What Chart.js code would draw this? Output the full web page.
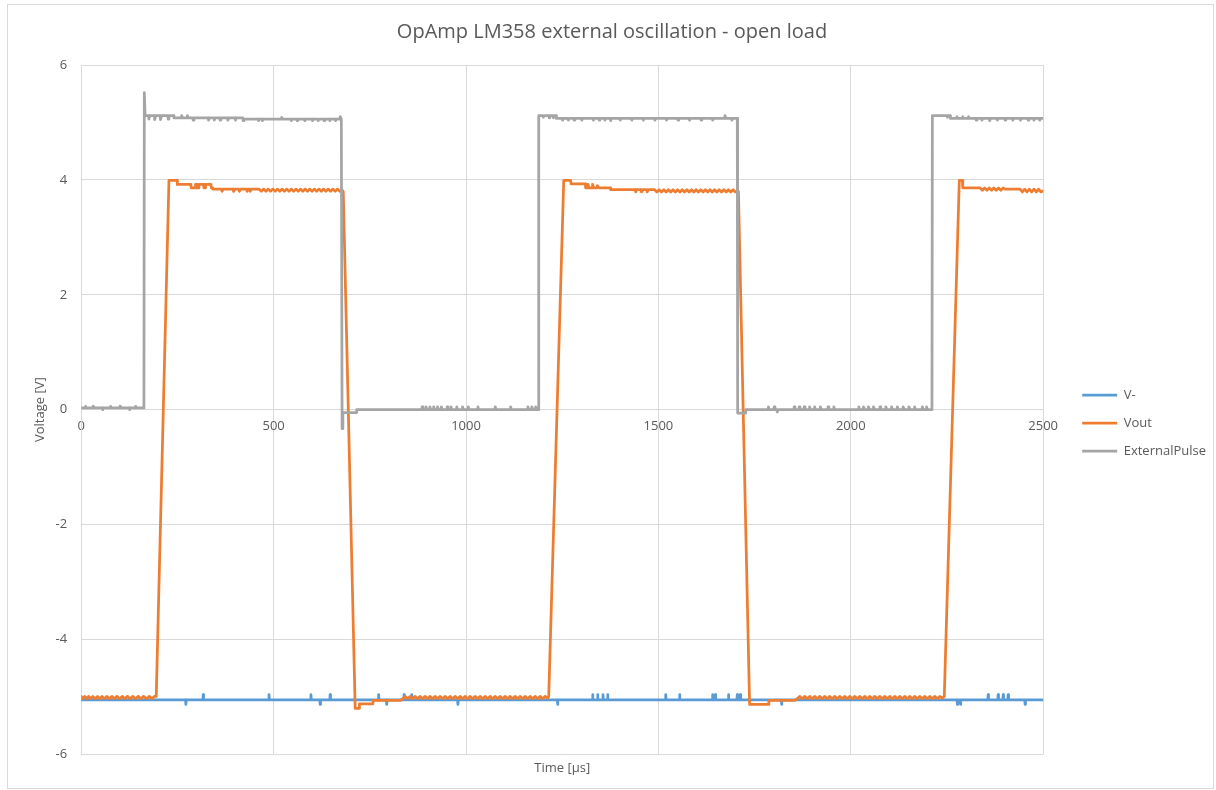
<!DOCTYPE html>
<html>
<head>
<meta charset="utf-8">
<title>OpAmp LM358 external oscillation - open load</title>
<script src="https://cdn.jsdelivr.net/npm/chart.js@4.4.1/dist/chart.umd.min.js"></script>
<style>
  html, body { margin: 0; padding: 0; background: #ffffff; }
  #wrap { width: 1216px; height: 790px; }
</style>
</head>
<body>
<div id="wrap"><canvas id="scope" width="1216" height="790"></canvas></div>
<script>
// Oscilloscope capture: time [µs], voltage [V]
const timeTicks = [0, 500, 1000, 1500, 2000, 2500];
const voltTicks = [-6, -4, -2, 0, 2, 4, 6];
const seriesNames = ['V-', 'Vout', 'ExternalPulse'];

// V- : inverting input, sits near -5.05 V with occasional single-sample blips
const vMinusSamples = [
  [0,-5.05],[271,-5.05],[272,-5.13],[273,-5.05],[316,-5.05],[317,-4.96],[318,-5.05],
  [487,-5.05],[488,-4.96],[489,-5.05],[596,-5.05],[597,-4.96],[598,-5.05],
  [620,-5.05],[621,-5.13],[622,-5.05],[646,-5.05],[647,-4.96],[648,-5.05],
  [772,-5.05],[773,-4.96],[774,-5.05],[793,-5.05],[794,-5.13],[795,-5.05],
  [838,-5.05],[839,-4.96],[840,-5.05],[858,-5.05],[859,-4.96],[860,-5.05],
  [978,-5.05],[979,-5.13],[980,-5.05],[1237,-5.05],[1238,-5.13],[1239,-5.05],
  [1328,-5.05],[1329,-4.96],[1330,-5.05],[1341,-5.05],[1342,-4.96],[1343,-5.05],
  [1355,-5.05],[1356,-4.96],[1357,-5.05],[1367,-5.05],[1368,-4.96],[1369,-5.05],
  [1518,-5.05],[1519,-4.96],[1520,-5.05],[1554,-5.05],[1555,-4.96],[1556,-5.05],
  [1640,-5.05],[1641,-4.96],[1642,-5.05],[1647,-5.05],[1648,-4.96],[1649,-5.05],
  [1681,-5.05],[1682,-4.96],[1683,-5.05],[1704,-5.05],[1705,-4.96],[1706,-5.05],
  [1712,-5.05],[1713,-4.96],[1714,-5.05],[1819,-5.05],[1820,-5.13],[1821,-5.05],
  [2276,-5.05],[2277,-5.13],[2278,-5.05],[2284,-5.05],[2285,-5.13],[2286,-5.05],
  [2356,-5.05],[2357,-4.96],[2358,-5.05],[2382,-5.05],[2383,-4.96],[2384,-5.05],
  [2395,-5.05],[2396,-4.96],[2397,-5.05],[2408,-5.05],[2409,-4.96],[2410,-5.05],
  [2452,-5.05],[2453,-5.13],[2454,-5.05],[2500,-5.05]
];

// Vout : amplifier output swinging between about -5.0 V and +3.8..4.0 V
const voutSamples = [
  [0,-4.99],[4,-5.03],[9,-4.99],[14,-5.03],[19,-4.99],[24,-5.03],[30,-4.99],[36,-5.03],
  [42,-4.99],[48,-5.03],[54,-4.99],[60,-5.03],[67,-4.99],[73,-5.03],[80,-4.99],[86,-5.03],
  [93,-4.99],[100,-5.03],[107,-4.99],[113,-5.03],[120,-4.99],[127,-5.03],[134,-4.99],
  [141,-5.03],[148,-4.99],[155,-5.03],[162,-4.99],[170,-5.03],[177,-4.99],[184,-5.03],
  [190,-4.99],[195,-4.99],
  [228,3.99],[249,3.99],[250,3.92],[285,3.92],[286,3.86],[296,3.86],[297,3.92],[301,3.92],
  [302,3.86],[305,3.86],[306,3.92],[318,3.92],[319,3.86],[322,3.86],[323,3.92],[337,3.92],
  [338,3.86],[341,3.86],[342,3.84],[365,3.84],[366,3.8],[369,3.84],[395,3.84],[396,3.8],
  [400,3.84],[410,3.84],[411,3.8],[414,3.84],[430,3.84],[431,3.8],[434,3.84],[438,3.84],
  [439,3.8],[442,3.84],[462,3.84],[468,3.8],[474,3.84],[480,3.8],[486,3.84],[492,3.8],
  [498,3.84],[504,3.8],[510,3.84],[516,3.8],[522,3.84],[528,3.8],[534,3.84],[540,3.8],
  [546,3.84],[552,3.8],[558,3.84],[564,3.8],[570,3.84],[576,3.8],[582,3.84],[588,3.8],
  [594,3.84],[600,3.8],[606,3.84],[612,3.8],[618,3.84],[624,3.8],[630,3.84],[636,3.8],
  [642,3.84],[648,3.8],[654,3.84],[660,3.8],[666,3.84],[672,3.8],[678,3.82],[681,3.8],
  [712,-5.2],[722,-5.2],[723,-5.12],[758,-5.12],[759,-5.06],[830,-5.06],
  [836,-5.03],[842,-4.99],[848,-5.03],[855,-4.99],[861,-5.03],[868,-4.99],[874,-5.03],
  [881,-4.99],[887,-5.03],[894,-4.99],[900,-5.03],[907,-4.99],[913,-5.03],[920,-4.99],
  [926,-5.03],[933,-4.99],[939,-5.03],[946,-4.99],[952,-5.03],[959,-4.99],[965,-5.03],
  [972,-4.99],[978,-5.03],[985,-4.99],[991,-5.03],[998,-4.99],[1004,-5.03],[1011,-4.99],
  [1017,-5.03],[1024,-4.99],[1030,-5.03],[1037,-4.99],[1043,-5.03],[1050,-4.99],[1056,-5.03],
  [1063,-4.99],[1069,-5.03],[1076,-4.99],[1082,-5.03],[1089,-4.99],[1095,-5.03],[1102,-4.99],
  [1108,-5.03],[1115,-4.99],[1121,-5.03],[1128,-4.99],[1134,-5.03],[1141,-4.99],[1147,-5.03],
  [1154,-4.99],[1160,-5.03],[1167,-4.99],[1173,-5.03],[1180,-4.99],[1186,-5.03],[1193,-4.99],
  [1199,-5.03],[1206,-4.99],[1212,-5.02],[1215,-4.99],
  [1254,3.99],[1272,3.99],[1273,3.93],[1310,3.93],[1311,3.86],[1316,3.86],[1317,3.92],
  [1320,3.86],[1328,3.86],[1329,3.92],[1332,3.86],[1340,3.86],[1341,3.9],[1346,3.86],
  [1375,3.86],[1376,3.83],[1440,3.83],[1441,3.79],[1444,3.83],[1455,3.83],[1456,3.79],
  [1460,3.83],[1470,3.83],[1471,3.79],[1474,3.83],[1490,3.83],[1496,3.79],[1502,3.83],
  [1508,3.79],[1514,3.83],[1520,3.79],[1526,3.83],[1532,3.79],[1538,3.83],[1544,3.79],
  [1550,3.83],[1556,3.79],[1562,3.83],[1568,3.79],[1574,3.83],[1580,3.79],[1586,3.83],
  [1592,3.79],[1598,3.83],[1604,3.79],[1610,3.83],[1616,3.79],[1622,3.83],[1628,3.79],
  [1634,3.83],[1640,3.79],[1646,3.83],[1652,3.79],[1658,3.83],[1664,3.79],[1670,3.83],
  [1676,3.79],[1682,3.83],[1688,3.79],[1694,3.83],[1700,3.79],[1708,3.8],
  [1737,-5.13],[1786,-5.13],[1787,-5.06],[1855,-5.06],[1861,-5.03],[1867,-4.99],
  [1874,-5.03],[1880,-4.99],[1887,-5.03],[1893,-4.99],[1900,-5.03],[1906,-4.99],[1913,-5.03],
  [1919,-4.99],[1926,-5.03],[1932,-4.99],[1939,-5.03],[1945,-4.99],[1952,-5.03],[1958,-4.99],
  [1965,-5.03],[1971,-4.99],[1978,-5.03],[1984,-4.99],[1991,-5.03],[1997,-4.99],[2004,-5.03],
  [2010,-4.99],[2017,-5.03],[2023,-4.99],[2030,-5.03],[2036,-4.99],[2043,-5.03],[2049,-4.99],
  [2056,-5.03],[2062,-4.99],[2069,-5.03],[2075,-4.99],[2082,-5.03],[2088,-4.99],[2095,-5.03],
  [2101,-4.99],[2108,-5.03],[2114,-4.99],[2121,-5.03],[2127,-4.99],[2134,-5.03],[2140,-4.99],
  [2147,-5.03],[2153,-4.99],[2160,-5.03],[2166,-4.99],[2173,-5.03],[2179,-4.99],[2186,-5.03],
  [2192,-4.99],[2199,-5.03],[2205,-4.99],[2212,-5.03],[2218,-4.99],[2225,-5.03],[2231,-4.99],
  [2238,-5.02],[2243,-4.99],
  [2282,3.99],[2290,3.99],[2291,3.86],[2336,3.86],[2342,3.82],[2348,3.86],[2354,3.82],
  [2360,3.86],[2366,3.82],[2372,3.86],[2378,3.82],[2384,3.86],[2390,3.82],[2396,3.86],
  [2401,3.84],[2440,3.84],[2446,3.79],[2452,3.84],[2458,3.79],[2464,3.84],[2470,3.79],
  [2476,3.84],[2482,3.79],[2488,3.84],[2494,3.79],[2500,3.81]
];

// ExternalPulse : 0 V / 5.1 V drive pulse, roughly 1 ms period
const pulseSamples = [
  [0,0.03],[10,0.03],[11,0.06],[12,0.03],[30,0.03],[31,0.06],[32,0.03],[55,0.03],[56,0.0],
  [57,0.03],[75,0.03],[76,0.06],[77,0.03],[100,0.03],[101,0.06],[102,0.03],[125,0.03],
  [126,0.0],[127,0.03],[140,0.03],[141,0.06],[142,0.03],[163,0.03],
  [164,5.52],[166,5.12],[175,5.12],[176,5.06],[178,5.12],[190,5.12],[191,5.05],[194,5.12],
  [205,5.12],[206,5.05],[209,5.12],[225,5.12],[226,5.06],[228,5.12],[240,5.12],[241,5.08],
  [260,5.08],[261,5.12],[263,5.08],[275,5.08],[276,5.12],[278,5.08],[290,5.08],[291,5.04],
  [293,5.08],[330,5.08],[331,5.04],[333,5.08],[345,5.08],[346,5.04],[348,5.08],[360,5.08],
  [361,5.04],[363,5.08],[380,5.08],[381,5.04],[384,5.08],[400,5.08],[401,5.04],[403,5.08],
  [420,5.08],[421,5.03],[423,5.06],[460,5.06],[461,5.03],[463,5.06],[470,5.06],[471,5.03],
  [473,5.06],[520,5.06],[521,5.09],[523,5.06],[545,5.06],[546,5.03],[548,5.06],[560,5.06],
  [561,5.03],[563,5.06],[580,5.06],[581,5.03],[584,5.06],[600,5.06],[601,5.03],[603,5.06],
  [615,5.06],[616,5.03],[618,5.06],[630,5.06],[631,5.03],[633,5.06],[645,5.06],[646,5.03],
  [648,5.06],[660,5.06],[661,5.03],[663,5.06],[672,5.06],[673,5.1],[676,5.06],[677,5.06],
  [678,-0.33],[680,-0.05],[715,-0.05],[716,0.0],[885,0.0],[886,0.05],[888,0.0],[895,0.0],
  [896,0.05],[898,0.0],[905,0.0],[906,0.05],[909,0.0],[915,0.0],[916,0.05],[919,0.0],
  [925,0.0],[926,0.05],[929,0.0],[935,0.0],[936,0.05],[939,0.0],[950,0.0],[951,0.05],
  [953,0.0],[960,0.0],[961,0.05],[963,0.0],[975,0.0],[976,0.05],[978,0.0],[990,0.0],
  [991,0.05],[993,0.0],[1005,0.0],[1006,0.05],[1008,0.0],[1030,0.0],[1031,0.05],[1033,0.0],
  [1075,0.0],[1076,0.05],[1078,0.0],[1115,0.0],[1116,0.05],[1118,0.0],[1160,0.0],[1161,0.05],
  [1163,0.0],[1170,0.0],[1171,0.05],[1174,0.0],[1180,0.0],[1181,0.05],[1184,0.0],[1188,0.0],
  [1189,5.12],[1200,5.12],[1201,5.09],[1203,5.12],[1215,5.12],[1216,5.08],[1218,5.12],
  [1226,5.12],[1227,5.08],[1229,5.12],[1234,5.12],[1235,5.07],[1250,5.07],[1251,5.04],
  [1254,5.07],[1265,5.07],[1266,5.04],[1268,5.07],[1280,5.07],[1281,5.04],[1283,5.07],
  [1300,5.07],[1301,5.04],[1303,5.07],[1330,5.07],[1331,5.04],[1333,5.07],[1345,5.07],
  [1346,5.04],[1348,5.07],[1360,5.07],[1361,5.04],[1363,5.07],[1375,5.07],[1376,5.03],
  [1378,5.07],[1400,5.07],[1401,5.04],[1403,5.07],[1430,5.07],[1431,5.04],[1433,5.07],
  [1460,5.07],[1461,5.04],[1463,5.07],[1490,5.07],[1491,5.04],[1493,5.07],[1520,5.07],
  [1521,5.04],[1523,5.07],[1550,5.07],[1551,5.04],[1553,5.07],[1580,5.07],[1581,5.04],
  [1583,5.07],[1610,5.07],[1611,5.04],[1613,5.07],[1640,5.07],[1641,5.04],[1643,5.07],
  [1672,5.07],[1673,5.12],[1676,5.07],[1690,5.07],[1691,5.04],[1693,5.07],[1705,5.07],
  [1706,-0.06],[1726,-0.06],[1727,0.0],[1785,0.0],[1786,0.05],[1788,0.0],[1800,0.0],
  [1801,0.05],[1803,0.0],[1808,0.0],[1809,-0.04],[1811,0.0],[1852,0.0],[1853,0.05],
  [1855,0.0],[1865,0.0],[1866,0.05],[1868,0.0],[1878,0.0],[1879,0.05],[1881,0.0],[1892,0.0],
  [1893,0.05],[1895,0.0],[1905,0.0],[1906,0.05],[1908,0.0],[1920,0.0],[1921,0.05],[1923,0.0],
  [1940,0.0],[1941,0.05],[1943,0.0],[1955,0.0],[1956,0.05],[1958,0.0],[2020,0.0],[2021,0.05],
  [2023,0.0],[2032,0.0],[2033,0.05],[2036,0.0],[2045,0.0],[2046,0.05],[2049,0.0],[2058,0.0],
  [2059,0.05],[2062,0.0],[2075,0.0],[2076,0.05],[2078,0.0],[2090,0.0],[2091,0.05],[2094,0.0],
  [2105,0.0],[2106,0.05],[2108,0.0],[2120,0.0],[2121,0.05],[2124,0.0],[2135,0.0],[2136,0.05],
  [2139,0.0],[2150,0.0],[2151,0.05],[2154,0.0],[2165,0.0],[2166,0.05],[2168,0.0],[2185,0.0],
  [2186,0.05],[2188,0.0],[2196,0.0],[2197,0.05],[2199,0.0],[2211,0.0],
  [2212,5.12],[2250,5.12],[2251,5.09],[2253,5.12],[2258,5.12],[2259,5.07],[2275,5.07],
  [2276,5.1],[2278,5.07],[2290,5.07],[2291,5.1],[2293,5.07],[2305,5.07],[2306,5.1],
  [2308,5.07],[2325,5.07],[2326,5.04],[2328,5.07],[2340,5.07],[2341,5.04],[2343,5.07],
  [2360,5.07],[2361,5.03],[2363,5.07],[2380,5.07],[2381,5.04],[2383,5.07],[2400,5.07],
  [2401,5.04],[2403,5.07],[2420,5.07],[2421,5.04],[2423,5.07],[2440,5.07],[2441,5.04],
  [2443,5.07],[2460,5.07],[2461,5.04],[2463,5.07],[2475,5.07],[2476,5.04],[2478,5.07],
  [2490,5.07],[2491,5.04],[2493,5.07],[2500,5.07]
];

const seriesColors = ['#5B9BD5', '#ED7D31', '#A5A5A5'];
const FONT = '"Open Sans", "Liberation Sans", sans-serif';
const TEXT = '#595959';
const GRID = '#D9D9D9';

const toPoints = s => s.map(([t, v]) => ({ x: t, y: v }));
const plainNumber = v => String(v);

// white background and the thin frame around the whole chart
const frame = {
  id: 'frame',
  beforeDraw(chart) {
    const c = chart.ctx;
    c.save();
    c.fillStyle = '#ffffff';
    c.fillRect(0, 0, chart.width, chart.height);
    c.strokeStyle = GRID;
    c.lineWidth = 1;
    c.strokeRect(7.5, 4.5, chart.width - 10, chart.height - 6);
    c.restore();
  }
};

const allSamples = [vMinusSamples, voutSamples, pulseSamples];

new Chart(document.getElementById('scope'), {
  type: 'line',
  data: {
    datasets: seriesNames.map((name, i) => ({
      label: name,
      data: toPoints(allSamples[i]),
      borderColor: seriesColors[i],
      backgroundColor: seriesColors[i],
      borderWidth: 2.75,
      borderJoinStyle: 'round',
      borderCapStyle: 'round',
      pointRadius: 0,
      tension: 0,
      fill: false,
      order: 3 - i
    }))
  },
  options: {
    responsive: false,
    animation: false,
    devicePixelRatio: 1,
    layout: { padding: { left: 8, right: 0, top: 0, bottom: 12 } },
    plugins: {
      title: {
        display: true,
        text: 'OpAmp LM358 external oscillation - open load',
        color: TEXT,
        font: { family: FONT, size: 20, weight: 'normal' },
        padding: { top: 20, bottom: 21 }
      },
      legend: {
        position: 'right',
        title: { display: true, text: ' ', font: { size: 12 }, padding: { top: 0, bottom: 54 } },
        labels: {
          usePointStyle: true,
          pointStyle: 'line',
          pointStyleWidth: 35,
          padding: 15,
          color: TEXT,
          font: { family: FONT, size: 13 },
          sort: (a, b) => a.datasetIndex - b.datasetIndex
        }
      },
      tooltip: { enabled: false }
    },
    scales: {
      x: {
        type: 'linear',
        min: timeTicks[0],
        max: timeTicks[timeTicks.length - 1],
        afterBuildTicks: s => { s.ticks = timeTicks.map(v => ({ value: v })); },
        ticks: { display: false },
        grid: { color: GRID, drawTicks: false, lineWidth: 1 },
        border: { display: false },
        title: {
          display: true,
          text: 'Time [µs]',
          color: TEXT,
          font: { family: FONT, size: 13 },
          padding: { top: 6, bottom: 2 }
        }
      },
      xZero: {
        type: 'linear',
        axis: 'x',
        position: { y: 0 },
        min: timeTicks[0],
        max: timeTicks[timeTicks.length - 1],
        afterBuildTicks: s => { s.ticks = timeTicks.map(v => ({ value: v })); },
        ticks: { padding: 9, color: TEXT, font: { family: FONT, size: 13 }, maxRotation: 0, callback: plainNumber },
        grid: { display: false, drawTicks: false },
        border: { display: false }
      },
      y: {
        type: 'linear',
        min: voltTicks[0],
        max: voltTicks[voltTicks.length - 1],
        afterBuildTicks: s => { s.ticks = voltTicks.map(v => ({ value: v })); },
        ticks: { padding: 14, color: TEXT, font: { family: FONT, size: 13 }, callback: plainNumber },
        grid: { color: GRID, drawTicks: false, lineWidth: 1 },
        border: { display: true, color: GRID },
        title: {
          display: true,
          text: 'Voltage [V]',
          color: TEXT,
          font: { family: FONT, size: 13 },
          padding: { top: 24, bottom: -6 }
        }
      },
      gap: {
        type: 'linear',
        axis: 'y',
        position: 'right',
        ticks: { display: false },
        grid: { display: false, drawTicks: false },
        border: { display: false },
        afterFit: s => { s.width = 24; }
      }
    }
  },
  plugins: [frame]
});
</script>
</body>
</html>
